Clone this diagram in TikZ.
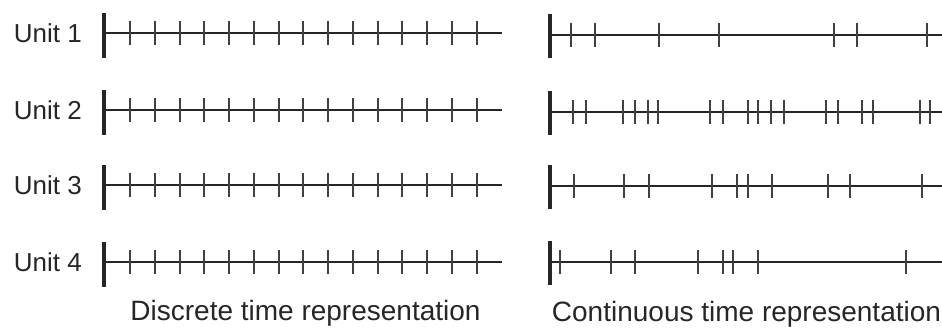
\documentclass[tikz,border=0pt]{standalone}
\usepackage{fontspec}
\setmainfont{Liberation Sans}
\usetikzlibrary{calc}
\begin{document}
\begin{tikzpicture}[x=1pt,y=-1pt,
  axisline/.style={line width=2.8pt,draw=black!85},
  startbar/.style={line width=3.2pt,draw=black!85},
  tickmark/.style={line width=2pt,draw=black!75},
  unitlabel/.style={anchor=base east,inner sep=0pt,font=\fontsize{26}{30}\selectfont,text=black!85},
  paneltitle/.style={anchor=base,inner sep=0pt,font=\fontsize{28}{32}\selectfont,text=black!85}]
\useasboundingbox (0,0) rectangle (942,329);

% discrete time: equal steps on every unit
\foreach \n/\y in {1/33,2/110,3/185,4/262}{
  \node[unitlabel] (u\n) at (82,\y+9.5) {Unit \n};
  \coordinate (ds\n) at (104,\y);
  \coordinate (de\n) at (502,\y);
  \draw[startbar] (104,\y-20) -- (104,\y+25);
  \draw[axisline] (ds\n) -- (de\n);
  \foreach \k in {0,...,14}{
    \draw[tickmark] ($(ds\n)+(26+24.75*\k,-12)$) -- ++(0,24);
  }
}

% continuous time: events placed freely on each unit
\foreach \n/\y/\ticks in {
  1/35/{571,595,659,719,834,857,927},
  2/112/{573,586,623,635,648,658,710,723,748,758,771,784,826,838,862,873,920,930},
  3/186/{574,624,649,712,737,748,772,828,850,922},
  4/262/{560,611,635,698,723,733,758,906}}{
  \coordinate (cs\n) at (550,\y);
  \coordinate (ce\n) at (942,\y);
  \draw[startbar] (550,\y-21) -- (550,\y+23);
  \draw[axisline] (cs\n) -- (ce\n);
  \foreach \t in \ticks{
    \draw[tickmark] (\t,\y-12) -- (\t,\y+12);
  }
}

\node[paneltitle] (dtitle) at (305.5,320) {Discrete time representation};
\node[paneltitle] (ctitle) at (746.5,321) {Continuous time representation};
\end{tikzpicture}
\end{document}
